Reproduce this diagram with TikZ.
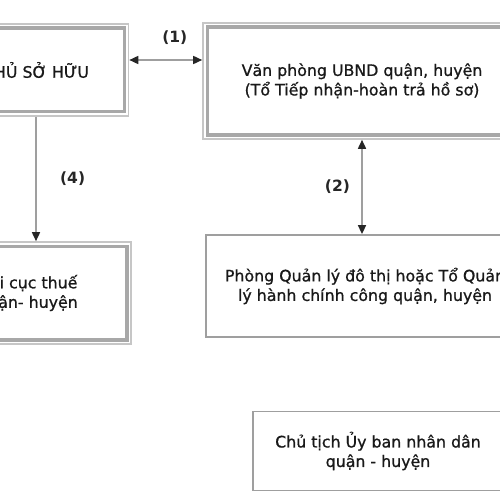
\documentclass[tikz,border=0pt]{standalone}
\usepackage{fontspec}
\setmainfont{DejaVu Sans}
\newfontfamily\boxfont[FakeBold=0.9]{DejaVu Sans}
\usetikzlibrary{arrows.meta,calc}
\begin{document}
\begin{tikzpicture}[x=1pt,y=1pt,
  txt/.style={font=\boxfont\fontsize{15.8}{19.5}\selectfont, text=black!90, align=center},
  lbl/.style={font=\bfseries\fontsize{15.5}{18}\selectfont, text=black!85},
  dbox/.style={draw=gray!45, line width=1.6pt, inner sep=0pt, txt},
  sbox/.style={draw=gray!75, line width=1.8pt, inner sep=0pt, txt},
  dinner/.style={draw=gray!68, line width=3.4pt},
  conn/.style={draw=gray!75, line width=1.6pt, {Triangle[length=9pt,width=8pt,black!85]}-{Triangle[length=9pt,width=8pt,black!85]}},
  conn1/.style={draw=gray!75, line width=1.6pt, -{Triangle[length=9pt,width=8pt,black!85]}}
]
\useasboundingbox (0,0) rectangle (500,-500);
\clip (0,0) rectangle (500,-500);
\fill[white] (0,0) rectangle (500,-500);

\node[dbox, minimum width=185pt, minimum height=92pt] (b1) at (36,-70) {CHỦ SỞ HỮU};
\node[dbox, minimum width=318pt, minimum height=116pt] (b2) at (362,-81) {Văn phòng UBND quận, huyện\\(Tổ Tiếp nhận-hoàn trả hồ sơ)};
\node[sbox, minimum width=318pt, minimum height=102pt] (b3) at (365,-286) {Phòng Quản lý đô thị hoặc Tổ Quản\\lý hành chính công quận, huyện};
\node[dbox, minimum width=206pt, minimum height=102pt] (b4) at (28,-293) {Chi cục thuế\\quận- huyện};
\node[sbox, minimum width=250pt, minimum height=79pt] (b5) at (378,-451) {Chủ tịch Ủy ban nhân dân\\quận - huyện};

\foreach \b in {b1,b2,b4}{
  \draw[dinner] ([shift={(5pt,-5pt)}]\b.north west) rectangle ([shift={(-5pt,5pt)}]\b.south east);
}

\draw[conn] ([yshift=10pt]b1.east) -- ([yshift=10pt]b1.east -| b2.west) node[lbl, midway, above=11pt, xshift=9pt] (l1) {(1)};
\draw[conn] (b2.south) -- (b2.south |- b3.north) node[lbl, midway, left=8pt] (l2) {(2)};
\draw[conn1] (b1.south) -- (b1.south |- b4.north) node[lbl, midway, right=20pt] (l4) {(4)};
\end{tikzpicture}
\end{document}
